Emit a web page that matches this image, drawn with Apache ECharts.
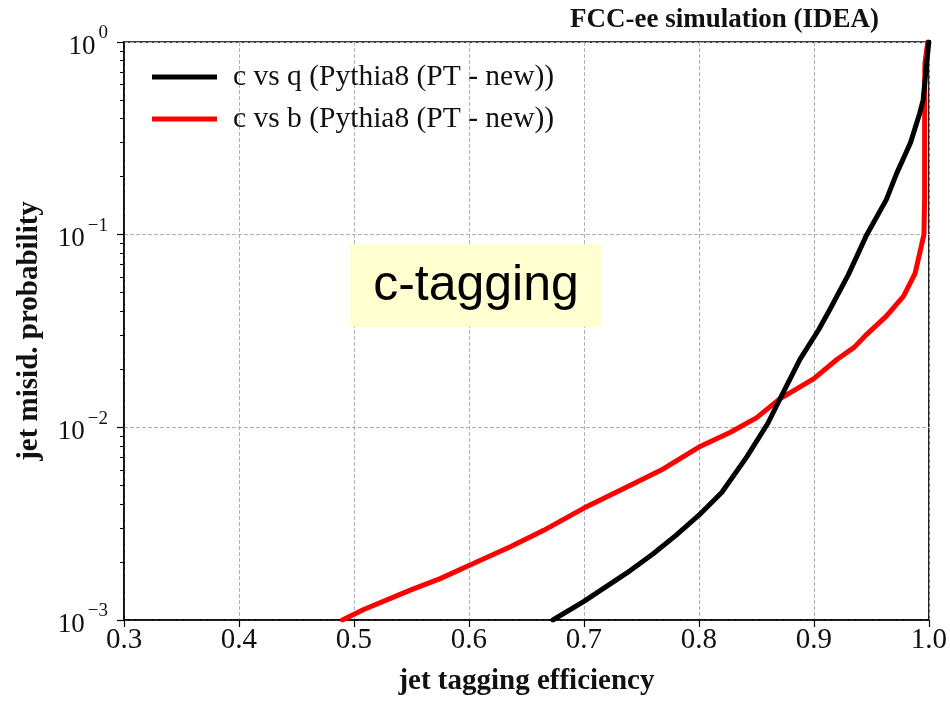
<!DOCTYPE html>
<html>
<head>
<meta charset="utf-8">
<script src="https://cdn.jsdelivr.net/npm/echarts@6/dist/echarts.min.js"></script>
<style>html,body{margin:0;padding:0;background:#fff;}#chart{width:950px;height:701px;}</style>
</head>
<body>
<div id="chart"></div>
<script>
// ---- data ----
const seriesNames = ['c vs q (Pythia8 (PT - new))', 'c vs b (Pythia8 (PT - new))'];
const cqEff  = [0.673, 0.700, 0.720, 0.740, 0.760, 0.780, 0.800, 0.820, 0.8415, 0.860, 0.8704, 0.888, 0.904, 0.914, 0.930, 0.946, 0.963, 0.972, 0.984, 0.992, 0.995, 0.998, 1.000];
const cqMis  = [1.0e-3, 1.25e-3, 1.5e-3, 1.8e-3, 2.2e-3, 2.75e-3, 3.5e-3, 4.6e-3, 7.0e-3, 1.05e-2, 1.40e-2, 2.26e-2, 3.2e-2, 4.1e-2, 6.2e-2, 0.100, 0.152, 0.208, 0.300, 0.426, 0.50, 0.77, 1.0];
const cbEff  = [0.490, 0.508, 0.549, 0.575, 0.600, 0.636, 0.665, 0.700, 0.740, 0.769, 0.800, 0.827, 0.850, 0.870, 0.900, 0.920, 0.935, 0.945, 0.963, 0.978, 0.988, 0.9927, 0.9957, 0.9963, 0.9963, 0.9965, 0.999];
const cbMis  = [1.0e-3, 1.13e-3, 1.43e-3, 1.64e-3, 1.92e-3, 2.40e-3, 2.92e-3, 3.81e-3, 4.99e-3, 6.08e-3, 7.9e-3, 9.4e-3, 1.12e-2, 1.40e-2, 1.79e-2, 2.25e-2, 2.6e-2, 3.0e-2, 3.78e-2, 4.8e-2, 6.3e-2, 8.35e-2, 0.100, 0.152, 0.35, 0.77, 1.0];
const xTicks = [0.3, 0.4, 0.5, 0.6, 0.7, 0.8, 0.9, 1.0];
const yMajorTicks = [1e-3, 1e-2, 1e-1, 1];
const yExponents = ['−3', '−2', '−1', '0'];
const yMinorTicks = [2e-3,3e-3,4e-3,5e-3,6e-3,7e-3,8e-3,9e-3,2e-2,3e-2,4e-2,5e-2,6e-2,7e-2,8e-2,9e-2,0.2,0.3,0.4,0.5,0.6,0.7,0.8,0.9];
const titleText = 'FCC-ee simulation (IDEA)';
const xName = 'jet tagging efficiency';
const yName = 'jet misid. probability';
const boxText = 'c-tagging';

const zip = (a, b) => a.map((v, i) => [v, b[i]]);
const serif = '"Liberation Serif", "DejaVu Serif", serif';

const chart = echarts.init(document.getElementById('chart'));
const option = {
  backgroundColor: '#ffffff',
  animation: false,
  grid: { left: 124, right: 21, top: 42, bottom: 79, show: true, borderColor: '#000', borderWidth: 1.5, backgroundColor: 'transparent' },
  legend: {
    left: 147, top: 57, orient: 'vertical', itemWidth: 65, itemHeight: 5, itemGap: 12, icon: 'rect',
    textStyle: { fontFamily: serif, fontSize: 29.5, lineHeight: 30, color: '#111', padding: [0, 0, 0, 11] },
    data: seriesNames
  },
  xAxis: {
    type: 'value', min: 0.3, max: 1.0, interval: 0.1,
    name: xName, nameLocation: 'middle', nameGap: 47,
    nameTextStyle: { fontFamily: serif, fontSize: 29, fontWeight: 'bold', color: '#111' },
    axisLine: { show: true, onZero: false, lineStyle: { color: '#000', width: 1.5 } },
    axisTick: { show: true, inside: false, length: 7, lineStyle: { color: '#000', width: 1.2 }, customValues: xTicks },
    axisLabel: { fontFamily: serif, fontSize: 29, color: '#111', margin: 6, customValues: xTicks,
      formatter: v => (Math.round(v * 10) / 10).toFixed(1) },
    splitLine: { show: true, lineStyle: { color: '#b0b0b0', type: [4, 2], width: 1 } }
  },
  yAxis: [{
    type: 'log', logBase: 10, min: 1e-3, max: 1,
    name: yName, nameLocation: 'middle', nameGap: 80,
    nameTextStyle: { fontFamily: serif, fontSize: 29, fontWeight: 'bold', color: '#111' },
    axisLine: { show: true, onZero: false, lineStyle: { color: '#000', width: 1.5 } },
    axisTick: { show: true, length: 7, lineStyle: { color: '#000', width: 1.2 } },
    axisLabel: {
      margin: 16, color: '#111',
      formatter: v => {
        const i = yMajorTicks.findIndex(t => Math.abs(Math.log10(t) - Math.log10(v)) < 1e-6);
        return i < 0 ? '' : '{b|10}{s|' + yExponents[i] + '}';
      },
      rich: {
        b: { fontFamily: serif, fontSize: 27, color: '#111', lineHeight: 36, verticalAlign: 'bottom' },
        s: { fontFamily: serif, fontSize: 19, color: '#111', lineHeight: 36, verticalAlign: 'top', padding: [0, 0, 0, 3] }
      }
    },
    splitLine: { show: true, lineStyle: { color: '#b0b0b0', type: [4, 2], width: 1 } }
  }, {
    type: 'log', logBase: 10, min: 1e-3, max: 1, position: 'left',
    axisLine: { show: false },
    axisLabel: { show: false },
    splitLine: { show: false },
    axisTick: { show: true, length: 4, lineStyle: { color: '#000', width: 1 }, customValues: yMinorTicks }
  }],
  series: [
    { name: seriesNames[0], type: 'line', data: zip(cqEff, cqMis), showSymbol: false, symbol: 'none', smooth: false,
      lineStyle: { color: '#000000', width: 5, join: 'round', cap: 'round' }, itemStyle: { color: '#000000' }, z: 3 },
    { name: seriesNames[1], type: 'line', data: zip(cbEff, cbMis), showSymbol: false, symbol: 'none', smooth: false,
      lineStyle: { color: '#ff0000', width: 5, join: 'round', cap: 'round' }, itemStyle: { color: '#ff0000' }, z: 2 }
  ],
  graphic: [
    { type: 'text', left: 570, top: 7, style: { text: titleText, font: 'bold 27px ' + serif, fill: '#111' } },
    { type: 'rect', shape: { x: 350, y: 244, width: 252, height: 83 }, style: { fill: '#ffffd0' }, z: 10 },
    { type: 'text', x: 476, y: 286, z: 11, style: { text: boxText, font: '50px "Liberation Sans", Arial, sans-serif', fill: '#000', align: 'center', verticalAlign: 'middle' } }
  ]
};
chart.setOption(option);
</script>
</body>
</html>
